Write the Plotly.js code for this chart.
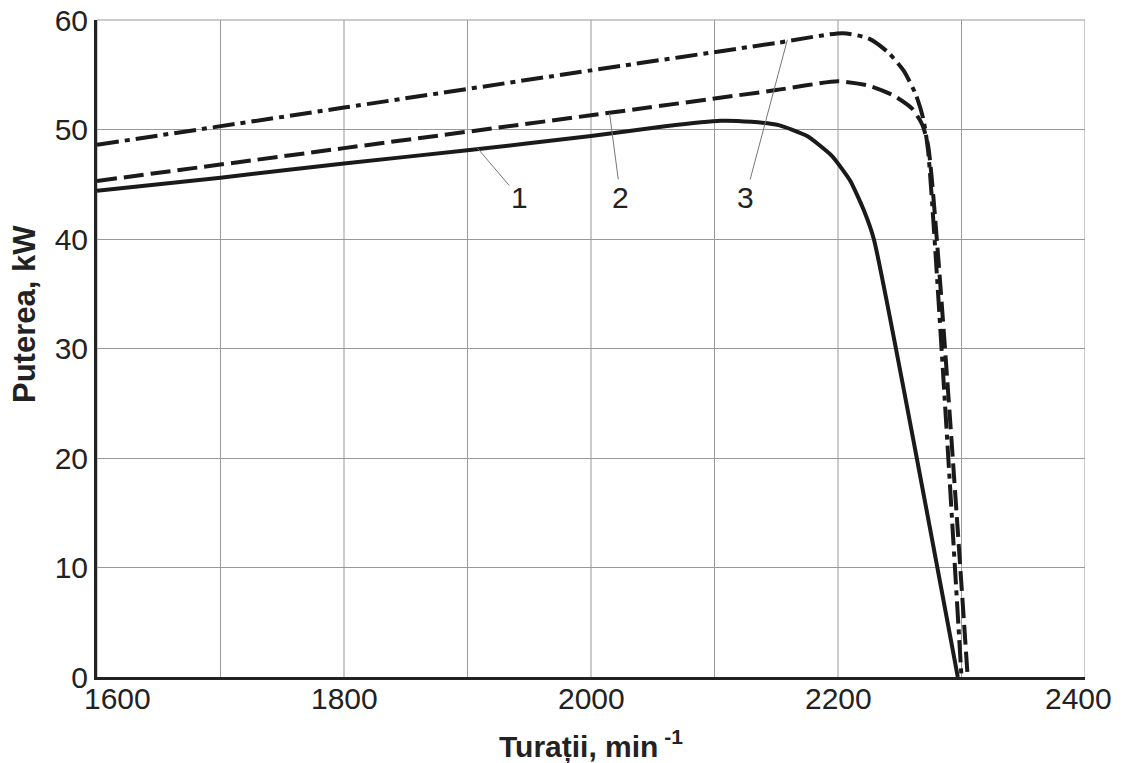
<!DOCTYPE html>
<html>
<head>
<meta charset="utf-8">
<script src="https://cdn.plot.ly/plotly-3.0.1.min.js"></script>
<style>html,body{margin:0;padding:0;background:#fff;}#chart{width:1126px;height:763px;}</style>
</head>
<body>
<div id="chart"></div>
<script>
// Curve 1 (solid)
const x1 = [1600, 1700, 1800, 1900, 2000, 2060, 2105, 2130, 2152, 2175, 2195, 2210, 2221, 2229, 2297];
const y1 = [44.4, 45.6, 46.9, 48.1, 49.4, 50.3, 50.8, 50.7, 50.4, 49.4, 47.6, 45.3, 42.6, 40.0, 0];
// Curve 2 (dashed)
const x2 = [1600, 1800, 2000, 2150, 2200, 2225, 2245, 2260, 2268, 2273, 2305];
const y2 = [45.3, 48.3, 51.3, 53.6, 54.4, 54.0, 53.1, 51.9, 50.5, 48.5, 0];
// Curve 3 (dash-dot)
const x3 = [1600, 1800, 2000, 2150, 2204, 2225, 2240, 2253, 2263, 2269, 2273, 2300];
const y3 = [48.6, 52.0, 55.4, 57.9, 58.8, 58.3, 57.1, 55.4, 53.2, 51.0, 48.0, 0];

// Curve labels: text, leader target point, text position
const labelText = ['1', '2', '3'];
const labelPtX = [1908, 2015, 2159];
const labelPtY = [48.3, 51.5, 58.2];
const labelTxtX = [1942, 2024, 2125];
const labelTxtY = [43.8, 43.8, 43.8];

const xTicks = [1600, 1800, 2000, 2200, 2400];
const xGrid = [1600, 1700, 1800, 1900, 2000, 2100, 2200, 2300, 2400];
const yTicks = [0, 10, 20, 30, 40, 50, 60];
const xTitle = '<b>Turații, min</b><sup><b> -1</b></sup>';
const yTitle = '<b>Puterea, kW</b>';

const font = 'Liberation Sans, Arial, sans-serif';
const txtCol = '#222';
const lineCol = '#1a1a1a';
const fs = 30;

const traces = [
  {x: x1, y: y1, mode: 'lines', line: {color: lineCol, width: 4, shape: 'spline', smoothing: 0.5}},
  {x: x2, y: y2, mode: 'lines', line: {color: lineCol, width: 4, dash: '20px,7px', shape: 'spline', smoothing: 0.6}},
  {x: x3, y: y3, mode: 'lines', line: {color: lineCol, width: 4, dash: '22px,6px,5px,6px', shape: 'spline', smoothing: 0.6}}
];

const annotations = labelText.map((t, i) => ({
  x: labelPtX[i], y: labelPtY[i], xref: 'x', yref: 'y',
  ax: labelTxtX[i], ay: labelTxtY[i], axref: 'x', ayref: 'y',
  text: t, showarrow: true, arrowhead: 0, arrowwidth: 1, arrowcolor: '#777',
  standoff: 0, font: {family: font, size: fs, color: txtCol}
}));

// x tick labels (end labels shifted inward like the original)
const tickShift = {1600: 20, 2400: -7};
xTicks.forEach(v => {
  annotations.push({
    x: v, y: 0, xref: 'x', yref: 'paper', xanchor: 'center', yanchor: 'middle',
    xshift: tickShift[v] || 0, yshift: -21, showarrow: false,
    text: String(v), font: {family: font, size: fs, color: txtCol}
  });
});
// axis titles
annotations.push({
  x: 0.5, y: 0, xref: 'paper', yref: 'paper', xanchor: 'center', yanchor: 'middle',
  xshift: 0, yshift: -67, showarrow: false,
  text: xTitle, font: {family: font, size: fs, color: txtCol}
});
annotations.push({
  x: 0, y: (677 - 314) / 657, xref: 'paper', yref: 'paper', xanchor: 'center', yanchor: 'middle',
  xshift: -73, showarrow: false, textangle: -90,
  text: yTitle, font: {family: font, size: 31, color: txtCol}
});

const layout = {
  width: 1126, height: 763,
  margin: {l: 97, r: 41, t: 20, b: 86},
  paper_bgcolor: '#fff', plot_bgcolor: '#fff',
  showlegend: false,
  xaxis: {
    range: [1600, 2400], showticklabels: false,
    showgrid: false, zeroline: false,
    showline: true, linecolor: '#222', linewidth: 3, ticks: ''
  },
  yaxis: {
    range: [0, 60], tickvals: yTicks,
    showgrid: true, gridcolor: '#999', gridwidth: 1, zeroline: false,
    showline: true, linecolor: '#222', linewidth: 3,
    ticks: '', tickfont: {family: font, size: fs, color: txtCol}
  },
  shapes: xGrid.map(v => ({type: 'line', xref: 'x', yref: 'paper', x0: v, x1: v, y0: 0, y1: 1, line: {color: '#999', width: 1}, layer: 'below'}))
    .concat([{type: 'line', xref: 'paper', yref: 'paper', x0: 0, x1: 1, y0: 1, y1: 1, line: {color: '#999', width: 1}, layer: 'below'}]),
  annotations: annotations
};

Plotly.newPlot('chart', traces, layout, {displayModeBar: false, staticPlot: true});
</script>
</body>
</html>
